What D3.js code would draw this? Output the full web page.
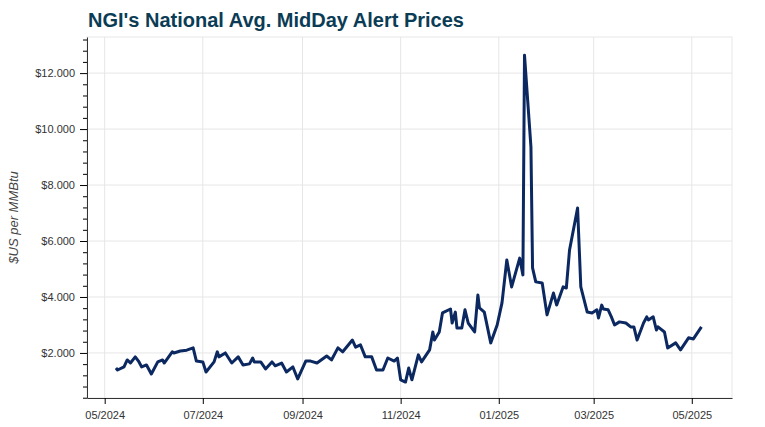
<!DOCTYPE html>
<html><head><meta charset="utf-8">
<script src="https://cdn.jsdelivr.net/npm/d3@7"></script>
<style>
body{margin:0;background:#fff;font-family:"Liberation Sans",Arial,sans-serif;}
.tick text{font-size:11px;fill:#333;}
</style></head><body>
<svg id="chart" width="765" height="427"></svg>
<script>
// observation dates and prices
const dates = ["2024-05-08","2024-05-09","2024-05-13","2024-05-15","2024-05-17","2024-05-20","2024-05-22","2024-05-24","2024-05-27","2024-05-30",
"2024-06-03","2024-06-06","2024-06-07","2024-06-12","2024-06-13","2024-06-17","2024-06-21","2024-06-25","2024-06-27","2024-07-01",
"2024-07-03","2024-07-08","2024-07-10","2024-07-11","2024-07-15","2024-07-19","2024-07-23","2024-07-26","2024-07-30","2024-08-01",
"2024-08-02","2024-08-06","2024-08-09","2024-08-13","2024-08-15","2024-08-19","2024-08-22","2024-08-26","2024-08-29","2024-09-03",
"2024-09-06","2024-09-10","2024-09-16","2024-09-19","2024-09-23","2024-09-26","2024-10-02","2024-10-04","2024-10-07","2024-10-10",
"2024-10-14","2024-10-17","2024-10-21","2024-10-24","2024-10-28","2024-10-30","2024-11-01","2024-11-04","2024-11-06","2024-11-08",
"2024-11-12","2024-11-14","2024-11-19","2024-11-21","2024-11-22","2024-11-25","2024-11-27","2024-12-02","2024-12-03","2024-12-05",
"2024-12-06","2024-12-09","2024-12-11","2024-12-13","2024-12-17","2024-12-19","2024-12-20","2024-12-23","2024-12-27","2024-12-31",
"2025-01-03","2025-01-06","2025-01-09","2025-01-14","2025-01-16","2025-01-17","2025-01-21","2025-01-22","2025-01-24","2025-01-28",
"2025-01-31","2025-02-04","2025-02-06","2025-02-10","2025-02-12","2025-02-14","2025-02-19","2025-02-21","2025-02-25","2025-02-28",
"2025-03-03","2025-03-04","2025-03-06","2025-03-07","2025-03-10","2025-03-12","2025-03-14","2025-03-17","2025-03-21","2025-03-24",
"2025-03-26","2025-03-28","2025-04-01","2025-04-03","2025-04-04","2025-04-07","2025-04-09","2025-04-10","2025-04-14","2025-04-16",
"2025-04-21","2025-04-24","2025-04-29","2025-05-02","2025-05-07"];
const prices = [1.46,1.39,1.5,1.75,1.64,1.86,1.71,1.5,1.57,1.25,
1.68,1.75,1.64,2.04,2.0,2.07,2.1,2.18,1.71,1.68,
1.32,1.68,2.04,1.86,2.0,1.64,1.86,1.57,1.61,1.82,
1.68,1.68,1.43,1.68,1.54,1.64,1.32,1.5,1.07,1.71,
1.71,1.64,1.89,1.75,2.18,2.04,2.46,2.21,2.29,1.86,
1.86,1.39,1.39,1.82,1.71,1.82,1.04,0.96,1.46,1.04,
1.93,1.68,2.11,2.75,2.46,2.75,3.43,3.57,3.07,3.46,
2.89,2.89,3.54,3.07,2.75,4.07,3.61,3.46,2.36,3.0,
3.79,5.32,4.36,5.39,4.79,12.64,9.36,5.04,4.54,4.5,
3.36,4.14,3.71,4.36,4.32,5.68,7.18,4.36,3.46,3.43,
3.54,3.25,3.71,3.57,3.54,3.29,3.0,3.11,3.07,2.93,
2.93,2.46,3.07,3.29,3.18,3.29,2.82,2.93,2.75,2.18,
2.36,2.11,2.54,2.5,2.93];
const yTicks = [2,4,6,8,10,12];
const xStart = "2024-04-20", xEnd = "2025-05-26";

const parse = d3.timeParse("%Y-%m-%d");
const data = dates.map((d,i)=>({date:parse(d), v:prices[i]}));

const margin = {top:37, right:33, bottom:29, left:87};
const W = 765, H = 427;
const w = W - margin.left - margin.right, h = H - margin.top - margin.bottom;
const svg = d3.select("#chart");

svg.append("text").attr("x",88).attr("y",27)
  .attr("font-size",20).attr("font-weight","bold").attr("fill","#0b3c55")
  .text("NGI's National Avg. MidDay Alert Prices");

const g = svg.append("g").attr("transform",`translate(${margin.left},${margin.top})`);
const x = d3.scaleTime().domain([parse(xStart),parse(xEnd)]).range([0,w]);
const y = d3.scaleLinear().domain([0.39,13.29]).range([h,0]);

const xTicks = x.ticks(d3.timeMonth.every(2));

// grid
g.append("rect").attr("width",w).attr("height",h).attr("fill","none").attr("stroke","#e8e8e8");
g.selectAll(".gy").data(yTicks).join("line")
  .attr("x1",0).attr("x2",w).attr("y1",d=>y(d)).attr("y2",d=>y(d)).attr("stroke","#e6e6e6");
g.selectAll(".gx").data(xTicks).join("line")
  .attr("y1",0).attr("y2",h).attr("x1",d=>x(d)).attr("x2",d=>x(d)).attr("stroke","#e6e6e6");

// axes
const xa = g.append("g").attr("transform",`translate(0,${h})`)
  .call(d3.axisBottom(x).tickValues(xTicks).tickFormat(d3.timeFormat("%m/%Y")).tickSize(6).tickSizeOuter(0));
xa.select(".domain").attr("stroke","#333");
xa.selectAll(".tick text").attr("dy","1.1em");

const minor = d3.range(0.4,13.3,0.4).filter(v=>!yTicks.some(t=>Math.abs(t-v)<1e-6));
g.append("g").call(d3.axisLeft(y).tickValues(minor).tickFormat("").tickSize(4).tickSizeOuter(0))
  .select(".domain").remove();
const ya = g.append("g")
  .call(d3.axisLeft(y).tickValues(yTicks).tickFormat(d=>"$"+d3.format(".3f")(d)).tickSize(7).tickSizeOuter(0));
ya.select(".domain").attr("stroke","#333");
ya.selectAll(".tick text").attr("dx","-2");

svg.append("text").attr("transform",`translate(18,${margin.top+h/2}) rotate(-90)`)
  .attr("text-anchor","middle").attr("font-size",13).attr("font-style","italic").attr("fill","#444")
  .text("$US per MMBtu");

// line
g.append("path").datum(data)
  .attr("fill","none").attr("stroke","#0b2860").attr("stroke-width",3).attr("stroke-linejoin","round")
  .attr("d",d3.line().x(d=>x(d.date)).y(d=>y(d.v)));
</script>
</body></html>
